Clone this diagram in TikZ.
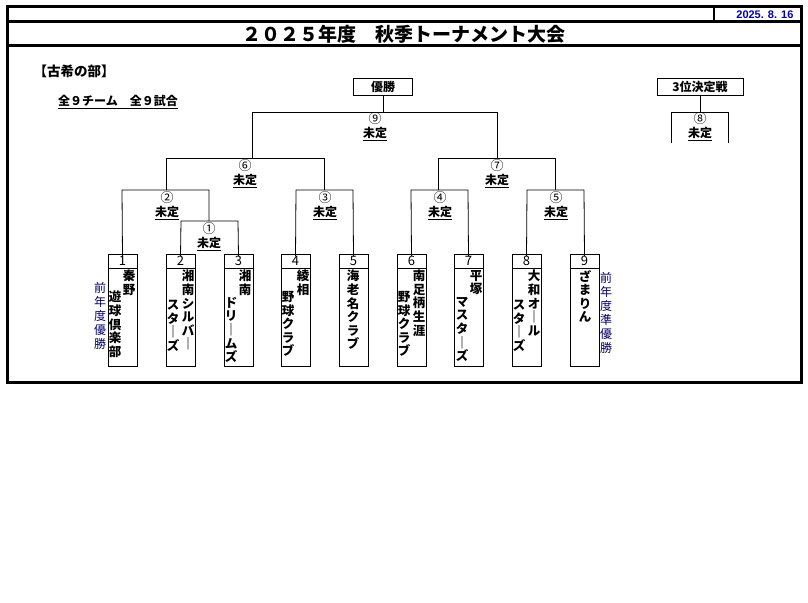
\documentclass[tikz,border=0pt]{standalone}
\usepackage{fontspec}
\setmainfont{Noto Sans CJK JP}
\newfontfamily\datefont{Liberation Sans}
\begin{document}
\begin{tikzpicture}[x=1pt,y=-1pt,
    line/.style={draw,line width=0.8pt},
    frame/.style={draw,line width=3pt},
    label/.style={font=\fontsize{12}{12}\selectfont\bfseries,inner sep=0pt},
    winner/.style={font=\fontsize{12}{12}\selectfont\bfseries,inner sep=0pt},
    num/.style={font=\fontsize{13}{13}\selectfont,inner sep=0pt},
    col/.style={font=\fontsize{12.5}{13.6}\selectfont\bfseries,align=center,anchor=north,inner sep=0pt},
    side/.style={font=\fontsize{12}{14}\selectfont,align=center,anchor=north,inner sep=0pt,text=blue!40!black}]
\useasboundingbox (0,0) rectangle (808,602);
% frame
\draw[frame] (7,7) rectangle (801,382);
\draw[frame] (7,22)--(801,22);
\draw[frame] (7,46)--(801,46);
\draw[line width=2pt] (714,8)--(714,22);
\node[font=\datefont\bfseries\fontsize{11}{11}\selectfont,text=blue!70!black,anchor=east] (date) at (797,15) {2025. 8. 16};
\node[font=\fontsize{19}{20}\selectfont\bfseries] (title) at (404,34) {２０２５年度　秋季トーナメント大会};
\node[font=\fontsize{13.5}{14}\selectfont\bfseries,anchor=west] (part) at (30,71) {【古希の部】};
\node[winner,anchor=west] (total) at (58,102) {\underline{全９チーム　全９試合}};
% top boxes
\node[label,draw,line width=0.8pt,minimum width=59pt,minimum height=17pt] (champ) at (383,87) {優勝};
\node[label,draw,line width=0.8pt,minimum width=86pt,minimum height=17pt] (third) at (700,87) {3位決定戦};
% match labels
\foreach \m/\x/\y in {⑨/375/119,⑧/700/119,⑥/245/166,⑦/497/166,②/167/198,③/325/198,④/440/198,⑤/556/198,①/209/229}{
  \node[num] at (\x,\y) {\m};
  \node[winner] at (\x,\y+15) {\underline{未定}};
}
% teams
\foreach \n/\x in {1/108,2/166,3/224,4/281,5/339,6/397,7/454,8/512,9/570}{
  \draw[line] (\x,254) rectangle (\x+29,366);
  \draw[line] (\x,268)--(\x+29,268);
  \node[num] (t\n) at (\x+14.5,261) {\n};
}
% brackets
\draw[line] (champ.south)--(383,112);
\draw[line] (252,158)--(252,112)--(497,112)--(497,158);
\draw[line] (third.south)--(700,112);
\draw[line] (671,143)--(671,112)--(728,112)--(728,143);
\draw[line] (166,190)--(166,158)--(324,158)--(324,190);
\draw[line] (438,190)--(438,158)--(555,158)--(555,190);
\draw[line] (t1.north)--(122,190)--(209,190)--(209,221);
\draw[line] (t2.north)--(181,221)--(238,221)--(t3.north);
\draw[line] (t4.north)--(296,190)--(353,190)--(t5.north);
\draw[line] (t6.north)--(411,190)--(468,190)--(t7.north);
\draw[line] (t8.north)--(527,190)--(584,190)--(t9.north);
% team names
\node[col] at (129,270) {秦\\野};
\node[col] at (115,291) {遊\\球\\倶\\楽\\部};
\node[col] at (188,270) {湘\\南\\シ\\ル\\バ\\｜};
\node[col] at (173,300) {ス\\タ\\｜\\ズ};
\node[col] at (245,270) {湘\\南};
\node[col] at (231,297) {ド\\リ\\｜\\ム\\ズ};
\node[col] at (303,270) {綾\\相};
\node[col] at (288,291) {野\\球\\ク\\ラ\\ブ};
\node[col] at (353,270) {海\\老\\名\\ク\\ラ\\ブ};
\node[col] at (419,270) {南\\足\\柄\\生\\涯};
\node[col] at (404,291) {野\\球\\ク\\ラ\\ブ};
\node[col] at (476,270) {平\\塚};
\node[col] at (462,297) {マ\\ス\\タ\\｜\\ズ};
\node[col] at (534,270) {大\\和\\オ\\｜\\ル};
\node[col] at (519,300) {ス\\タ\\｜\\ズ};
\node[col] at (585,270) {ざ\\ま\\り\\ん};
\node[side] at (100,282) {前\\年\\度\\優\\勝};
\node[side] at (606,272) {前\\年\\度\\準\\優\\勝};
\end{tikzpicture}
\end{document}
